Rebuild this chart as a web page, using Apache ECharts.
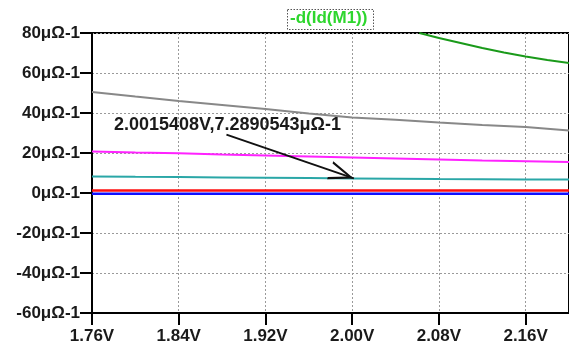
<!DOCTYPE html>
<html><head><meta charset="utf-8">
<script src="https://cdn.jsdelivr.net/npm/echarts@6/dist/echarts.min.js"></script>
<style>html,body{margin:0;padding:0;background:#fff}#c{width:569px;height:349px}</style>
</head><body><div id="c"></div>
<script>
const xVals = [1.76, 1.80, 1.84, 1.88, 1.92, 1.96, 2.00, 2.04, 2.08, 2.12, 2.16, 2.20];
const grayVals = [50.5, 48.2, 46.0, 44.0, 42.0, 39.8, 37.8, 36.6, 35.2, 34.0, 33.0, 31.2];
const magentaVals = [20.8, 20.3, 19.9, 19.3, 18.8, 18.3, 17.8, 17.3, 16.8, 16.3, 15.9, 15.5];
const tealVals = [8.3, 8.1, 7.95, 7.8, 7.6, 7.45, 7.29, 7.15, 7.0, 6.9, 6.8, 6.7];
const redVals = [1.3, 1.3, 1.3, 1.3, 1.3, 1.3, 1.3, 1.3, 1.3, 1.3, 1.3, 1.3];
const blueVals = [-0.4, -0.4, -0.4, -0.4, -0.4, -0.4, -0.4, -0.4, -0.4, -0.4, -0.4, -0.4];
const greenX = [2.062, 2.08, 2.10, 2.12, 2.14, 2.16, 2.18, 2.20];
const greenVals = [80, 77.5, 75, 72.5, 70.3, 68.3, 66.5, 65];
const titleText = '-d(Id(M1))';
const cursorX = 2.0015408, cursorY = 7.2890543;
const cursorText = '2.0015408V,7.2890543μΩ-1';
const arrowStart = [1.884, 29.2];

const zip = (xs, ys) => xs.map((x, i) => [x, ys[i]]);
const FONT = 'Liberation Sans';
const chart = echarts.init(document.getElementById('c'), null, {renderer: 'canvas'});
function ser(name, data, color, w) {
  return {name, type: 'line', data, showSymbol: false, symbol: 'none', animation: false,
    lineStyle: {color, width: w}, itemStyle: {color}, clip: true, z: 3};
}
const teal = ser('teal', zip(xVals, tealVals), '#2aa7a7', 2);
teal.markLine = {
  silent: true, animation: false,
  symbol: ['none', 'path://M5,0 L5.01,0 L5,0.01 Z M5,12 L10,24 L8.8,24 L5,14.8 L1.2,24 L0,24 Z'],
  symbolSize: [19, 50], label: {show: false},
  lineStyle: {color: '#111', width: 2, type: 'solid'},
  data: [[{coord: arrowStart}, {coord: [cursorX, cursorY]}]]
};
chart.setOption({
  backgroundColor: '#fff',
  animation: false,
  grid: {left: 92, top: 33, width: 478, height: 280, show: true, borderColor: '#000', borderWidth: 2, backgroundColor: 'transparent'},
  xAxis: {type: 'value', min: 1.76, max: 2.20, interval: 0.08,
    axisLine: {show: true, onZero: false, lineStyle: {color: '#000', width: 2}},
    axisTick: {show: true, length: 12, lineStyle: {color: '#000', width: 2}},
    axisLabel: {showMaxLabel: false, margin: 15, color: '#1a1a1a', fontFamily: FONT, fontWeight: 'bold', fontSize: 17,
      formatter: v => v.toFixed(2) + 'V'},
    splitLine: {show: true, lineStyle: {color: '#9a9a9a', width: 1, type: [2, 2]}}},
  yAxis: {type: 'value', min: -60, max: 80, interval: 20,
    axisLine: {show: true, onZero: false, lineStyle: {color: '#000', width: 2}},
    axisTick: {show: true, length: 12, lineStyle: {color: '#000', width: 2}},
    axisLabel: {margin: 12, color: '#1a1a1a', fontFamily: FONT, fontWeight: 'bold', fontSize: 17,
      formatter: v => v + 'μΩ-1'},
    splitLine: {show: true, lineStyle: {color: '#9a9a9a', width: 1, type: [2, 2]}}},
  series: [
    ser('green', zip(greenX, greenVals), '#1a9a1a', 2),
    ser('gray', zip(xVals, grayVals), '#888888', 2),
    ser('magenta', zip(xVals, magentaVals), '#ff22ff', 2),
    teal,
    ser('blue', zip(xVals, blueVals), '#1010ff', 2.5),
    ser('red', zip(xVals, redVals), '#ff1010', 2.5)
  ],
  graphic: [
    {type: 'rect', left: 287, top: 9, shape: {width: 86, height: 20},
      style: {fill: '#fff', stroke: '#555', lineWidth: 1, lineDash: [1.5, 1.5]}, z: 10},
    {type: 'text', left: 290, top: 10, z: 11,
      style: {text: titleText, fill: '#2ed62e', font: 'bold 17px "Liberation Sans"'}},
    {type: 'text', left: 114, top: 116, z: 11,
      style: {text: cursorText, fill: '#1a1a1a', font: 'bold 18px "Liberation Sans"'}}
  ]
});
</script></body></html>
